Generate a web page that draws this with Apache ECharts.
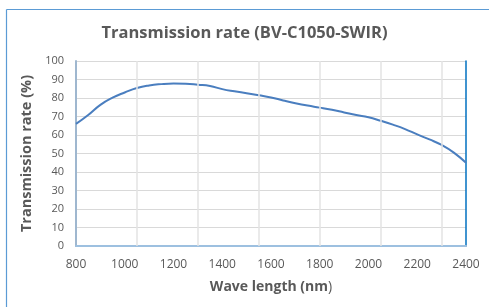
<!DOCTYPE html>
<html><head><meta charset="utf-8">
<script src="https://cdn.jsdelivr.net/npm/echarts@6/dist/echarts.min.js"></script>
<style>html,body{margin:0;padding:0;background:#fff}#c{width:489px;height:307px}</style>
</head><body><div id="c"></div>
<script>
const titleText = 'Transmission rate (BV-C1050-SWIR)';
const xName = 'Wave length (nm';
const yName = 'Transmission rate (%)';
const wavelengths = [800,850,900,950,1000,1050,1100,1150,1200,1250,1300,1350,1400,1450,1500,1550,1600,1650,1700,1750,1800,1850,1900,1950,2000,2050,2100,2150,2200,2250,2300,2350,2400];
const transmission = [66,70.8,76.3,80.2,83.0,85.4,86.8,87.5,87.8,87.7,87.2,86.5,84.8,83.6,82.6,81.5,80.3,78.7,77.2,75.9,74.8,73.6,72.2,70.8,69.6,67.7,65.6,63.2,60.3,57.6,54.6,50.5,45.0];
const verticalGridWaves = [1050,1300,1550,1800,2050,2300];

const chart = echarts.init(document.getElementById('c'));
const font = '"Open Sans", sans-serif';
chart.setOption({
  animation: false,
  title: {text: titleText, left: 'center', top: 20,
    textStyle: {fontFamily: font, fontSize: 16.5, fontWeight: 'bold', color: '#595959'}},
  grid: {left: 76, right: 23, top: 61, bottom: 61},
  graphic: [
    {type: 'line', shape: {x1: 6.5, y1: 9.5, x2: 489, y2: 9.5}, style: {stroke: '#5b9bd5', lineWidth: 1.2}},
    {type: 'line', shape: {x1: 6.5, y1: 9.5, x2: 6.5, y2: 307}, style: {stroke: '#5b9bd5', lineWidth: 1.2}}
  ],
  xAxis: [{
    type: 'value', min: 800, max: 2400, interval: 200, position: 'bottom',
    name: '{b|' + xName + '}{n|)}', nameLocation: 'middle', nameGap: 34,
    nameTextStyle: {rich: {b: {fontFamily: font, fontSize: 14, fontWeight: 'bold', color: '#595959'},
                           n: {fontFamily: font, fontSize: 14, color: '#595959'}}},
    axisLine: {lineStyle: {color: '#9fb7cf', width: 2}},
    axisTick: {show: false}, splitLine: {show: false},
    axisLabel: {fontFamily: font, fontSize: 12, color: '#595959', margin: 13, formatter: v => String(v)}
  }, {
    type: 'value', min: 800, max: 2400, position: 'top',
    axisLine: {show: true, lineStyle: {color: '#9dc3e6', width: 1.5}},
    axisTick: {show: false}, axisLabel: {show: false}, splitLine: {show: false}
  }],
  yAxis: [{
    type: 'value', min: 0, max: 100, interval: 10,
    name: yName, nameLocation: 'middle', nameGap: 29,
    nameTextStyle: {fontFamily: font, fontSize: 14.5, fontWeight: 'bold', color: '#595959'},
    axisLine: {show: true, lineStyle: {color: '#9fb7cf', width: 2}},
    axisTick: {show: false},
    splitLine: {lineStyle: {color: '#d9d9d9', width: 1}},
    axisLabel: {fontFamily: font, fontSize: 11, color: '#595959', margin: 12}
  }, {
    type: 'value', min: 0, max: 100, position: 'right',
    axisLine: {show: true, lineStyle: {color: '#0070c0', width: 1.5}},
    axisTick: {show: false}, axisLabel: {show: false}, splitLine: {show: false}
  }],
  series: [{
    type: 'line', xAxisIndex: 0, yAxisIndex: 0, z: 1, data: [],
    markLine: {silent: true, symbol: 'none', label: {show: false},
      lineStyle: {color: '#e3e3e3', width: 1.5, type: 'solid'},
      data: verticalGridWaves.map(w => ({xAxis: w}))}
  }, {
    type: 'line', xAxisIndex: 0, yAxisIndex: 0, z: 3, smooth: true, symbol: 'none',
    data: wavelengths.map((w, i) => [w, transmission[i]]),
    lineStyle: {color: '#4a7ebf', width: 2}
  }]
});
</script></body></html>
